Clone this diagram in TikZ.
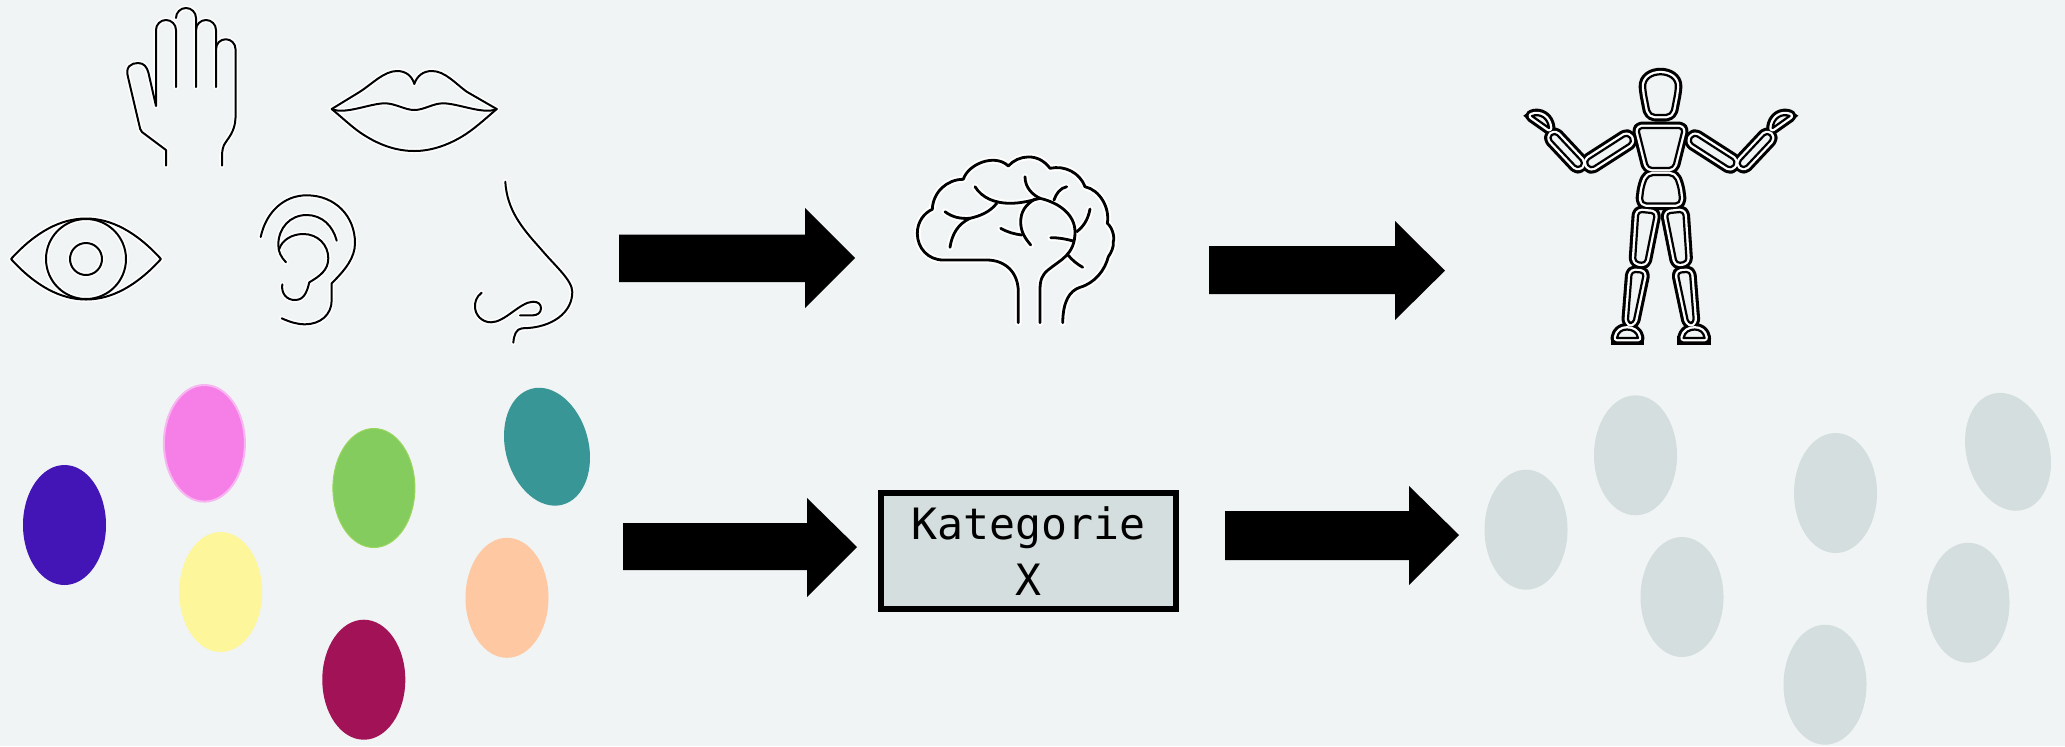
\documentclass[tikz,border=0pt]{standalone}
\usepackage{fontspec}
\setmonofont{DejaVu Sans Mono}
\definecolor{bg}{HTML}{F0F4F4}
\definecolor{graybox}{HTML}{D5DEDE}
\definecolor{cpurple}{HTML}{4315B7}
\definecolor{cpink}{HTML}{F57FE6}
\definecolor{cpinkedge}{HTML}{F9B5F2}
\definecolor{cyellow}{HTML}{FDF69B}
\definecolor{cgreen}{HTML}{84CC5E}
\definecolor{cgreenedge}{HTML}{9AD65C}
\definecolor{cred}{HTML}{A11256}
\definecolor{cpeach}{HTML}{FEC9A2}
\definecolor{cteal}{HTML}{389696}
\tikzset{
  x=0.5pt,y=-0.5pt,
  iconhalo/.style={draw=white,line width=2.6pt,line cap=round,line join=round},
  iconink/.style={draw=black,line width=1pt,line cap=round,line join=round},
  brainhalo/.style={draw=white,line width=3.4pt,line cap=round,line join=round},
  brainink/.style={draw=black,line width=1.4pt,line cap=round,line join=round},
  manouter/.style={draw=black,line width=6.5pt,line join=round},
  manwhite/.style={draw=white,line width=3.4pt,line join=round},
  maninner/.style={draw=black,fill=bg,line width=1.1pt,line join=round},
  blockarrow/.style={fill=black,draw=none},
}
% the four senses + hand, drawn with the style given as argument
\newcommand{\senselines}[1]{%
  % hand
  \path[#1] (166,165.5) -- (166,150) -- (142,132) .. controls (140,130) and (140,128) .. (139.5,126) -- (128,77)
    .. controls (125,67) and (131,63) .. (138,63) .. controls (144,63) and (147,67) .. (148.5,73) -- (156,106) -- (156,30)
    arc[start angle=180,end angle=360,radius=10] -- (176,87);
  \path[#1] (176,18) arc[start angle=180,end angle=360,radius=10] -- (196,87);
  \path[#1] (196,30) arc[start angle=180,end angle=360,radius=10] -- (216,87);
  \path[#1] (216,49) arc[start angle=180,end angle=360,radius=9.75] -- (235.5,118)
    .. controls (235,132) and (228,138) .. (224,145) .. controls (222,150) and (222,152) .. (222,165.5);
  % eye
  \path[#1] (11,259) .. controls (60,205) and (112,205) .. (161,259) .. controls (112,313) and (60,313) .. (11,259) -- cycle;
  \path[#1] (86,259) circle[radius=40];
  \path[#1] (86,259) circle[radius=16];
  % ear
  \path[#1] (260.7,237) .. controls (266,212) and (284,195.3) .. (306.7,195.3)
    .. controls (335,195.3) and (355,216) .. (355,243)
    .. controls (355,258) and (345,270) .. (331.7,283.3)
    -- (331.7,300) .. controls (331.7,315) and (320,324.3) .. (305,324.3) .. controls (297,324.3) and (290,322) .. (281.7,318.3);
  \path[#1] (336.7,240.7) .. controls (333,226) and (322,215) .. (306.7,215)
    .. controls (290,215) and (278.3,228) .. (278.3,245) .. controls (278.3,252) and (281,257) .. (286,262.3);
  \path[#1] (279.3,249) .. controls (282,240) and (292,234) .. (303.3,234)
    .. controls (318,234) and (328.3,245) .. (328.3,258.3) .. controls (328.3,270) and (320,276) .. (309.3,282.3)
    .. controls (307,292) and (304,300) .. (295,300) .. controls (287,300) and (281,294) .. (282.3,284.3);
  % lips
  \path[#1] (331.7,109) -- (360,91.7) .. controls (372,84) and (384,71) .. (397,71)
    .. controls (406,71) and (412,76) .. (414.3,84) .. controls (417,76) and (423,71) .. (432,71)
    .. controls (445,71) and (456,84) .. (466.7,91.7) -- (496.7,109);
  \path[#1] (331.7,109) .. controls (345,115) and (370,103.3) .. (385,103.3)
    .. controls (395,103.3) and (405,110) .. (414.3,110) .. controls (424,110) and (433,103.3) .. (443,103.3)
    .. controls (458,103.3) and (484,115) .. (496.7,109);
  \path[#1] (331.7,109) .. controls (345,120) and (355,130) .. (366.7,136.7)
    .. controls (382,146) and (398,151) .. (414.3,151) .. controls (430,151) and (446,146) .. (461.7,136.7)
    .. controls (473,130) and (484,120) .. (496.7,109);
  % nose
  \path[#1] (505.3,181.7) .. controls (507,210) and (522,228) .. (540,248)
    .. controls (555,266) and (572.3,280) .. (572.3,292)
    .. controls (572.3,312) and (553,328) .. (522,328.3) .. controls (516,329) and (514,335) .. (513.3,342.7);
  \path[#1] (481.7,292.7) .. controls (476,297) and (475,302) .. (475,306.7)
    .. controls (475,315) and (482,322.3) .. (491,322.3)
    .. controls (505,322.3) and (520,302) .. (533,301.7)
    .. controls (538,301.7) and (541,304) .. (541,308.3)
    .. controls (541,313) and (537,315.3) .. (533,315.3) -- (520,315.3);
}
\newcommand{\brainlines}[1]{%
  \path[#1] (1018.3,322.7) -- (1018.3,292) .. controls (1018.3,272) and (1005,260) .. (986.7,260) -- (943.3,260)
    .. controls (928,260) and (917.3,248) .. (917.3,233.3) .. controls (917.3,222) and (924,213) .. (932.3,209.3)
    .. controls (933,192) and (947,179.3) .. (963.3,179.3) .. controls (968,164) and (995,153) .. (1008.3,166)
    .. controls (1018,155) and (1038,152) .. (1050,168.3) .. controls (1065,165) and (1080,173) .. (1085,186.7)
    .. controls (1100,190) and (1110,208) .. (1107.3,223.3) .. controls (1112,227) and (1115,237) .. (1113.3,241.7)
    .. controls (1114,247) and (1111,253) .. (1108.3,256.7) .. controls (1105,270) and (1095,283) .. (1080,287.3)
    .. controls (1069,291) and (1063,302) .. (1062.7,322.7);
  \path[#1] (975,186.7) .. controls (982,198) and (995,203.3) .. (1010,203.3) .. controls (1020,203.3) and (1030,201) .. (1040,198.3)
    .. controls (1060,203) and (1075,215) .. (1075,232) .. controls (1075,255) and (1060,260) .. (1048,270)
    .. controls (1042,275) and (1040,280) .. (1040,290) -- (1040,322.7);
  \path[#1] (996.7,203.3) .. controls (990,212) and (980,216) .. (970,218.3) .. controls (958,224) and (952,234) .. (950,247.3);
  \path[#1] (945,211.7) .. controls (952,217) and (960,219) .. (970,218.3);
  \path[#1] (1025,176.7) .. controls (1025,188) and (1033,195) .. (1040,198.3);
  \path[#1] (1066.7,186.7) .. controls (1060,188) and (1056,194) .. (1054,200);
  \path[#1] (1035,199) .. controls (1025,205) and (1020.7,212) .. (1020.7,222) .. controls (1020.7,232) and (1025,238) .. (1030.7,245);
  \path[#1] (1000.7,228.3) .. controls (1007,232) and (1014,234) .. (1021.7,235);
  \path[#1] (1050.7,237.7) .. controls (1058,237.5) and (1066,239) .. (1073.3,241);
  \path[#1] (1090,209) .. controls (1088,220) and (1083,227) .. (1076.7,231.7);
  \path[#1] (1068,255) .. controls (1072,260) and (1077,264) .. (1082.7,267.3);
}
\newcommand{\halfbody}[1]{%
  \path[#1,rounded corners=2pt] (1632.4,141.8) -- (1590.4,168.8) -- (1585.6,161.2) -- (1627.6,134.2) -- cycle;
  \path[#1,rounded corners=2pt] (1554.6,132.3) -- (1583.6,163.3) -- (1577.8,168.7) -- (1548.8,137.7) -- cycle;
  \path[#1] (1532,116) .. controls (1540,113) and (1548,118) .. (1549,128) -- cycle;
  \path[#1,rounded corners=1.8pt] (1638.3,211.7) -- (1655,213.3) -- (1645,263.3) -- (1635,261.7) -- cycle;
  \path[#1,rounded corners=1.8pt] (1631.7,271.7) -- (1644,272.7) -- (1633.3,323.3) -- (1627.7,322.7) -- cycle;
  \path[#1] (1617,338) .. controls (1618,332) and (1622,329.5) .. (1627,329.5) .. controls (1632,329.5) and (1637,332) .. (1638,338) -- cycle;
}
\newcommand{\wholebody}[1]{%
  \path[#1,rounded corners=2.5pt] (1650,115) -- (1645.5,92) .. controls (1644,70) and (1677,70) .. (1675.5,92) -- (1671,115) -- cycle;
  \path[#1,rounded corners=2pt] (1638,128) -- (1683,128) -- (1673,168) -- (1648,168) -- cycle;
  \path[#1,rounded corners=2.5pt] (1648,175) -- (1674,175) -- (1678.5,187) -- (1680.5,203.5) -- (1641.5,203.5) -- (1643.5,187) -- cycle;
  \halfbody{#1}
  \begin{scope}[xscale=-1,xshift=-1660.8pt]
    \halfbody{#1}
  \end{scope}
}
\newcommand{\bodytips}{%
  \fill[black] (1523.3,115.7) -- (1533,109) -- (1533,124) -- cycle;
  \fill[black] (1610.5,336) rectangle (1644.3,345);
}
\begin{document}
\begin{tikzpicture}
\path[use as bounding box,fill=bg] (0,0) rectangle (2065,746);

\senselines{iconhalo}
\senselines{iconink}
\brainlines{brainhalo}
\brainlines{brainink}

% mannequin: silhouette, white ring, inner outline
\wholebody{manouter}
\bodytips
\begin{scope}[xscale=-1,xshift=-1660.8pt]
  \bodytips
\end{scope}
\wholebody{manwhite}
\wholebody{maninner}

% arrows
\fill[blockarrow] (619,234.5) -- (805,234.5) -- (805,208) -- (855,258) -- (805,308) -- (805,282) -- (619,282) -- cycle;
\fill[blockarrow] (1209,246) -- (1395,246) -- (1395,221) -- (1445,270.6) -- (1395,320) -- (1395,294) -- (1209,294) -- cycle;
\fill[blockarrow] (623,523) -- (807,523) -- (807,498) -- (857,547) -- (807,597) -- (807,570) -- (623,570) -- cycle;
\fill[blockarrow] (1225,511) -- (1409,511) -- (1409,486) -- (1459,535) -- (1409,585) -- (1409,560) -- (1225,560) -- cycle;

% coloured ovals
\fill[cpurple] (64.5,525) ellipse[x radius=41.5,y radius=60];
\filldraw[fill=cpink,draw=cpinkedge,line width=1pt] (204.4,443.3) ellipse[x radius=40.5,y radius=58.3];
\fill[cyellow] (220.7,592) ellipse[x radius=41.5,y radius=60];
\filldraw[fill=cgreen,draw=cgreenedge,line width=0.5pt] (373.9,488) ellipse[x radius=41,y radius=59.5];
\fill[cred] (363.8,679.7) ellipse[x radius=41.5,y radius=60];
\fill[cpeach] (507,597.8) ellipse[x radius=41.5,y radius=60];
\fill[cteal,rotate around={15:(547,446.7)}] (547,446.7) ellipse[x radius=41.5,y radius=60];

% category box
\node[draw=black,fill=graybox,line width=3pt,minimum width=147.8pt,minimum height=57.85pt,inner sep=0pt,align=center,font=\ttfamily\fontsize{21.6}{27.8}\selectfont] (box) at (1028.5,550.85) {Kategorie\\X};

% faded ovals
\fill[graybox] (1526,529.7) ellipse[x radius=41.5,y radius=60];
\fill[graybox] (1635.5,455.3) ellipse[x radius=41.5,y radius=60];
\fill[graybox] (1682,597) ellipse[x radius=41.5,y radius=60];
\fill[graybox] (1835.5,493) ellipse[x radius=41.5,y radius=60];
\fill[graybox] (1825,684.7) ellipse[x radius=41.5,y radius=60];
\fill[graybox] (1968,602.7) ellipse[x radius=41.5,y radius=60];
\fill[graybox,rotate around={15:(2008,451.8)}] (2008,451.8) ellipse[x radius=41.5,y radius=60];
\end{tikzpicture}
\end{document}
